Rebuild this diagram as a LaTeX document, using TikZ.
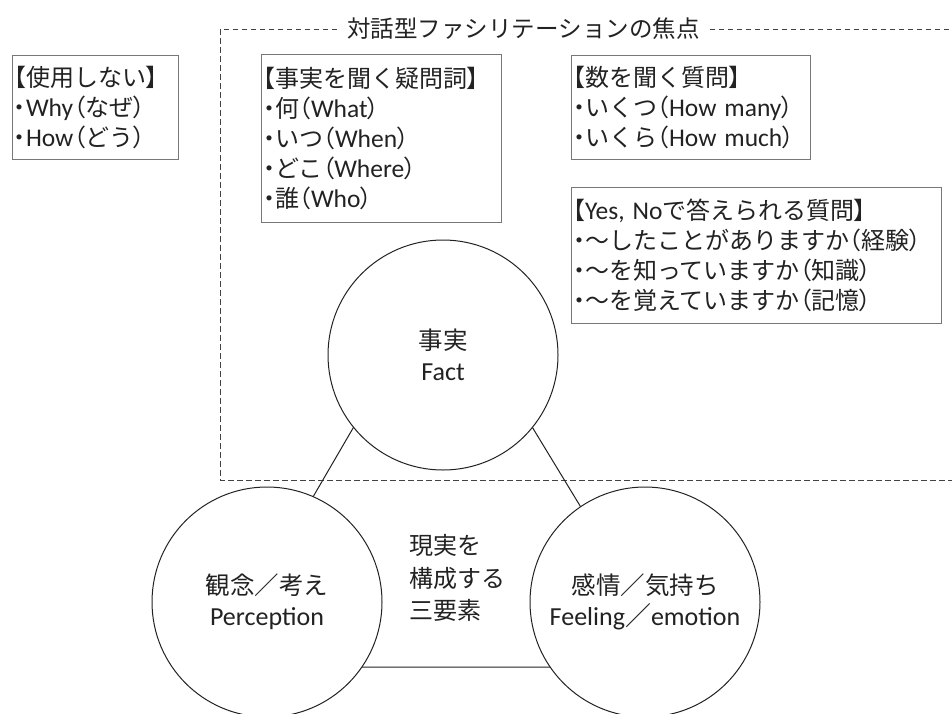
\documentclass[tikz,border=0pt]{standalone}
\usepackage{fontspec}
\setmainfont{Carlito}
\newfontfamily\jp{Noto Sans CJK JP}
\newfontfamily\jpp{Noto Sans CJK JP}[RawFeature=+palt]
\newcommand\E[1]{{\rmfamily\fontsize{25.5}{30}\selectfont #1}}
\newcommand\PT[1]{{\jpp #1}}
\definecolor{boxgray}{HTML}{777777}
\definecolor{ink}{HTML}{222222}
\begin{document}
\begin{tikzpicture}[x=1pt,y=-1pt,
  qbox/.style={draw=boxgray, line width=1pt, align=left, inner xsep=2pt, inner ysep=0pt,
    text=ink, font=\jp\fontsize{24}{30}\selectfont},
  circ/.style={circle, draw=ink, fill=white, line width=1pt, minimum size=230pt, inner sep=0pt,
    align=center, text=ink, font=\fontsize{26}{31}\selectfont},
  focus/.style={draw=ink!85, line width=1pt, dash pattern=on 5.5pt off 3.5pt},
  link/.style={draw=ink, line width=1pt}]
\clip (0,0) rectangle (952,713);
\fill[white] (0,0) rectangle (952,713);

% focus area
\draw[focus] (220,29) rectangle (975,480);
\node[fill=white, inner xsep=7pt, inner ysep=2pt, text=ink, font=\jp\fontsize{23.5}{28}\selectfont]
  (title) at (523.5,29) {対話型ファシリテーションの焦点};

% question boxes
\node[qbox, minimum width=166pt, minimum height=104pt, text width=162pt] (notuse) at (95,107)
  {\PT{【}使用しない\PT{】}\\\PT{・}\E{Why}\PT{（}なぜ\PT{）}\\\PT{・}\E{How}\PT{（}どう\PT{）}};
\node[qbox, minimum width=240pt, minimum height=168pt, text width=236pt] (wh) at (381,138)
  {\PT{【}事実を聞く疑問詞\PT{】}\\\PT{・}何\PT{（}\E{What}\PT{）}\\\PT{・}いつ\PT{（}\E{When}\PT{）}\\\PT{・}どこ\PT{（}\E{Where}\PT{）}\\\PT{・}誰\PT{（}\E{Who}\PT{）}};
\node[qbox, minimum width=239pt, minimum height=104pt, text width=235pt] (num) at (690.5,107)
  {\PT{【}数を聞く質問\PT{】}\\\PT{・}いくつ\PT{（}\E{How many}\PT{）}\\\PT{・}いくら\PT{（}\E{How much}\PT{）}};
\node[qbox, minimum width=370pt, minimum height=136pt, text width=366pt] (yesno) at (756,255)
  {\PT{【}\E{Yes, No}で答えられる質問\PT{】}\\\PT{・}〜したことがありますか\PT{（}経験\PT{）}\\\PT{・}〜を知っていますか\PT{（}知識\PT{）}\\\PT{・}〜を覚えていますか\PT{（}記憶\PT{）}};

% triangle behind circles
\coordinate (ta) at (441,277);
\coordinate (tb) at (214,667);
\coordinate (tc) at (678,667);
\draw[link] (ta) -- (tb) -- (tc) -- cycle;

% circles
\node[circ] (fact) at (443,355) {{\jp\fontsize{24.5}{31}\selectfont 事実}\\Fact};
\node[circ] (perc) at (267,602) {{\jp\fontsize{24.5}{31}\selectfont 観念／考え}\\Perception};
\node[circ] (feel) at (645,602) {{\jp\fontsize{24.5}{31}\selectfont 感情／気持ち}\\Feeling{\jp ／}emotion};

% centre label
\node[anchor=west, align=left, inner sep=0pt, text=ink, font=\jp\fontsize{24}{32.5}\selectfont]
  (three) at (409,578) {現実を\\構成する\\三要素};
\end{tikzpicture}
\end{document}
